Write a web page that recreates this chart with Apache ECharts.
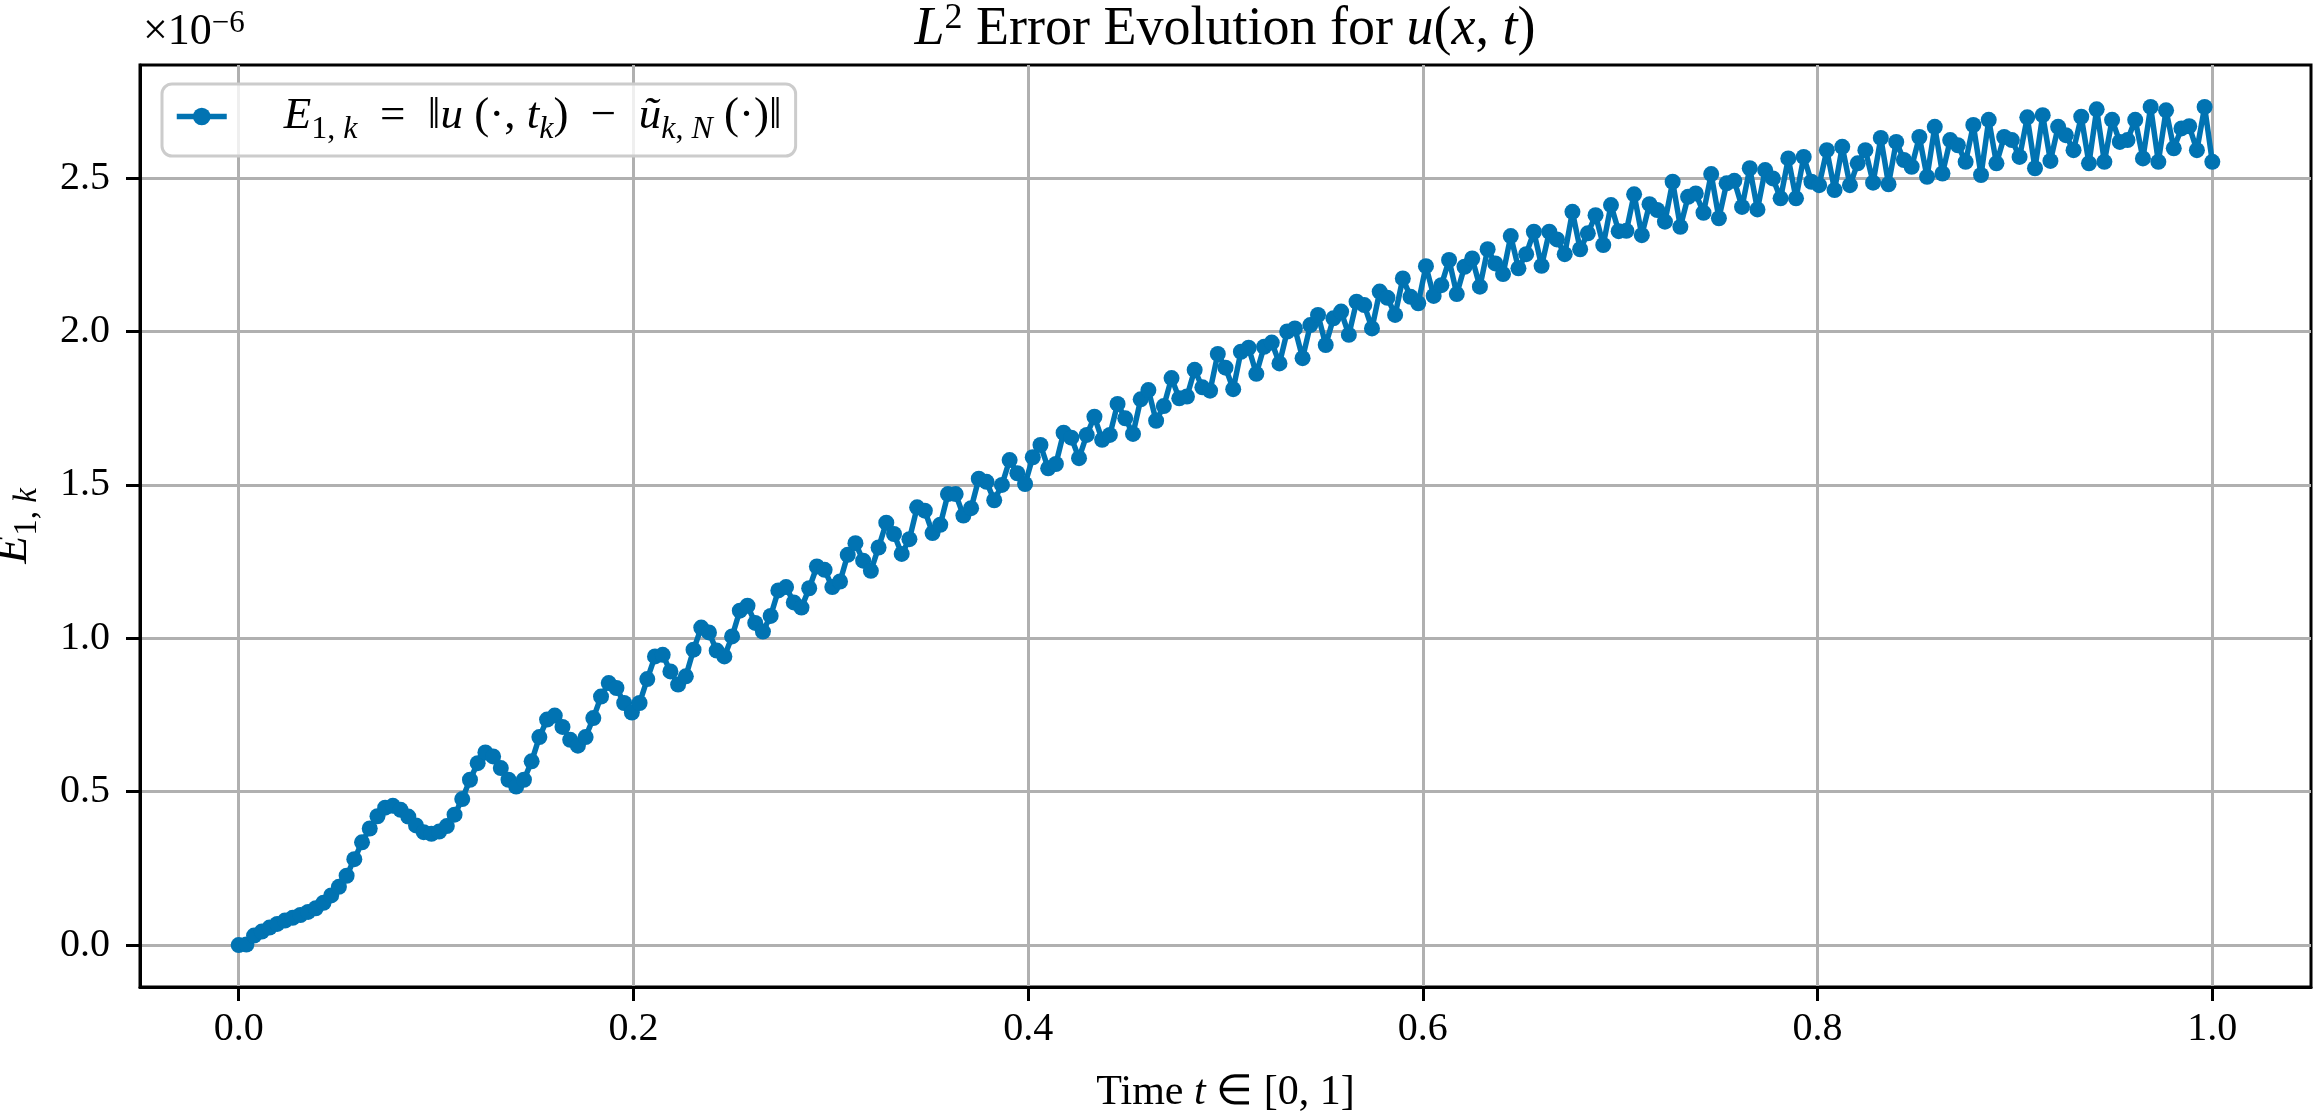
<!DOCTYPE html>
<html><head><meta charset="utf-8">
<script src="https://cdn.jsdelivr.net/npm/echarts@6/dist/echarts.min.js"></script>
<style>html,body{margin:0;padding:0;background:#fff}#c{width:2313px;height:1112px}</style>
</head><body><div id="c"></div>
<script>
// ---- data ----
const T_FINAL = 1.0;        // time interval [0, 1]
const N_STEPS = 256;        // uniform time steps, t_k = k * T_FINAL / N_STEPS
// E_{1,k} values in units of 1e-6 (axis shows x10^-6)
const E1_SCALED = [
  0.000, 0.002, 0.031, 0.044, 0.057, 0.069, 0.080, 0.089, 0.098, 0.108,
  0.120, 0.138, 0.162, 0.190, 0.226, 0.280, 0.335, 0.380, 0.420, 0.448,
  0.454, 0.441, 0.419, 0.390, 0.368, 0.363, 0.370, 0.388, 0.425, 0.476,
  0.539, 0.593, 0.628, 0.615, 0.577, 0.539, 0.517, 0.539, 0.599, 0.678,
  0.735, 0.748, 0.711, 0.669, 0.650, 0.678, 0.740, 0.810, 0.854, 0.838,
  0.789, 0.758, 0.789, 0.867, 0.941, 0.946, 0.892, 0.849, 0.876, 0.963,
  1.035, 1.019, 0.960, 0.941, 1.006, 1.090, 1.106, 1.050, 1.022, 1.073,
  1.156, 1.167, 1.117, 1.100, 1.163, 1.234, 1.223, 1.167, 1.185, 1.272,
  1.310, 1.253, 1.220, 1.296, 1.377, 1.340, 1.275, 1.323, 1.427, 1.416,
  1.343, 1.370, 1.470, 1.470, 1.400, 1.424, 1.520, 1.510, 1.450, 1.500,
  1.581, 1.538, 1.503, 1.590, 1.630, 1.554, 1.568, 1.670, 1.654, 1.587,
  1.663, 1.722, 1.647, 1.663, 1.764, 1.717, 1.666, 1.779, 1.809, 1.709,
  1.757, 1.848, 1.782, 1.788, 1.875, 1.818, 1.807, 1.927, 1.882, 1.812,
  1.934, 1.947, 1.862, 1.950, 1.964, 1.896, 2.000, 2.010, 1.913, 2.021,
  2.054, 1.956, 2.043, 2.065, 1.989, 2.097, 2.086, 2.010, 2.130, 2.110,
  2.054, 2.173, 2.113, 2.092, 2.213, 2.116, 2.151, 2.233, 2.122, 2.211,
  2.238, 2.146, 2.268, 2.222, 2.187, 2.311, 2.206, 2.252, 2.325, 2.214,
  2.325, 2.300, 2.252, 2.390, 2.268, 2.320, 2.379, 2.282, 2.412, 2.327,
  2.328, 2.447, 2.314, 2.415, 2.396, 2.358, 2.488, 2.341, 2.439, 2.450,
  2.387, 2.513, 2.369, 2.483, 2.491, 2.406, 2.532, 2.398, 2.526, 2.499,
  2.434, 2.564, 2.434, 2.569, 2.488, 2.477, 2.591, 2.461, 2.602, 2.477,
  2.548, 2.591, 2.485, 2.631, 2.480, 2.618, 2.559, 2.537, 2.634, 2.504,
  2.667, 2.515, 2.624, 2.607, 2.553, 2.673, 2.510, 2.690, 2.548, 2.634,
  2.624, 2.569, 2.698, 2.532, 2.705, 2.556, 2.667, 2.640, 2.591, 2.700,
  2.548, 2.724, 2.553, 2.690, 2.618, 2.624, 2.690, 2.564, 2.732, 2.553,
  2.721, 2.597, 2.662, 2.669, 2.591, 2.732, 2.553
];
const X_TICKS = [0.0, 0.2, 0.4, 0.6, 0.8, 1.0];
const Y_TICKS = [0.0, 0.5, 1.0, 1.5, 2.0, 2.5];
const SERIES_NAME = 'E1k';

// ---- styling ----
const FONT = 'Liberation Serif';
const BLUE = '#0173B2';
const TICK_FS = 40;

const seriesData = E1_SCALED.map((v, k) => [k * T_FINAL / N_STEPS, v]);

// matplotlib-like 5% margins
const xMin = -0.05 * T_FINAL, xMax = 1.05 * T_FINAL;
const yMaxData = Math.max(...E1_SCALED), yMinData = Math.min(...E1_SCALED);
const yPad = 0.05 * (yMaxData - yMinData);

const subRich = (base, sp) => ({
  r:    {fontFamily: FONT, fontSize: base, lineHeight: Math.round(base*1.3), color: '#000'},
  i:    {fontFamily: FONT, fontSize: base, fontStyle: 'italic', lineHeight: Math.round(base*1.3), color: '#000'},
  sub:  {fontFamily: FONT, fontSize: Math.round(base*0.72), lineHeight: Math.round(base*0.72), verticalAlign: 'bottom', color: '#000'},
  subi: {fontFamily: FONT, fontSize: Math.round(base*0.72), fontStyle: 'italic', lineHeight: Math.round(base*0.72), verticalAlign: 'bottom', color: '#000'},
  sp:   {width: sp || 56, fontSize: base, lineHeight: Math.round(base*1.3)}
});

const chart = echarts.init(document.getElementById('c'), null, {renderer: 'canvas'});
chart.setOption({
  animation: false,
  backgroundColor: '#fff',
  grid: {left: 140, right: 2, top: 65, bottom: 125, show: true, borderColor: '#000', borderWidth: 3,
         backgroundColor: 'transparent', containLabel: false, outerBoundsMode: 'none'},
  xAxis: {
    type: 'value', min: xMin, max: xMax,
    name: '{r|Time }{i|t}{r| ∈ [0, 1]}', nameLocation: 'middle', nameGap: 78,
    nameTextStyle: {fontFamily: FONT, fontSize: 42, rich: subRich(42)},
    axisLine: {show: true, onZero: false, lineStyle: {color: '#000', width: 3}},
    axisTick: {show: true, inside: false, length: 14, lineStyle: {color: '#000', width: 3}, customValues: X_TICKS},
    axisLabel: {customValues: X_TICKS, fontFamily: FONT, fontSize: TICK_FS, color: '#000', margin: 22, formatter: v => v.toFixed(1)},
    splitLine: {show: true, lineStyle: {color: '#b0b0b0', width: 3}}
  },
  yAxis: {
    type: 'value', min: yMinData - yPad, max: yMaxData + yPad,
    name: '{i|E}{sub|1, }{subi|k}', nameLocation: 'middle', nameGap: 96, nameRotate: 90,
    nameTextStyle: {fontFamily: FONT, fontSize: 46, rich: subRich(46)},
    axisLine: {show: true, onZero: false, lineStyle: {color: '#000', width: 3}},
    axisTick: {show: true, inside: false, length: 14, lineStyle: {color: '#000', width: 3}, customValues: Y_TICKS},
    axisLabel: {customValues: Y_TICKS, fontFamily: FONT, fontSize: TICK_FS, color: '#000', margin: 30, formatter: v => v.toFixed(1)},
    splitLine: {show: true, lineStyle: {color: '#b0b0b0', width: 3}}
  },
  legend: {
    show: true, left: 162, top: 84, orient: 'vertical',
    padding: [10, 14, 10, 12],
    backgroundColor: 'rgba(255,255,255,0.8)', borderColor: '#cccccc', borderWidth: 3, borderRadius: 10,
    itemWidth: 50, itemHeight: 22,
    lineStyle: {width: 5.5, color: BLUE},
    itemStyle: {color: BLUE},
    data: [SERIES_NAME],
    formatter: () => '{sp| }{i|E}{sub|1, }{subi|k}{r|  =  ‖}{i|u}{r| (·, }{i|t}{subi|k}{r|)  −  }{i|ũ}{subi|k}{sub|, }{subi|N}{r| (·)‖}',
    textStyle: {fontFamily: FONT, fontSize: 45, rich: subRich(45, 52)}
  },
  graphic: [
    {type: 'text', x: 1225, y: 30, style: {
      text: '{i|L}{sup|2}{r| Error Evolution for }{i|u}{r|(}{i|x}{r|, }{i|t}{r|)}',
      align: 'center', verticalAlign: 'middle',
      rich: {
        r: {fontFamily: FONT, fontSize: 54, lineHeight: 58, color: '#000'},
        i: {fontFamily: FONT, fontSize: 54, fontStyle: 'italic', lineHeight: 58, color: '#000'},
        sup: {fontFamily: FONT, fontSize: 36, lineHeight: 36, verticalAlign: 'top', color: '#000'}
      }
    }},
    {type: 'text', x: 143, y: 8, style: {
      text: '{r|×10}{sup|−6}',
      rich: {
        r: {fontFamily: FONT, fontSize: 44, lineHeight: 48, color: '#000'},
        sup: {fontFamily: FONT, fontSize: 31, lineHeight: 31, verticalAlign: 'top', color: '#000'}
      }
    }}
  ],
  series: [{
    name: SERIES_NAME, type: 'line', data: seriesData,
    showSymbol: true, showAllSymbol: true, symbol: 'circle', symbolSize: 16,
    itemStyle: {color: BLUE}, lineStyle: {color: BLUE, width: 5.5},
    emphasis: {disabled: true}, sampling: null, clip: false
  }]
});
</script></body></html>
